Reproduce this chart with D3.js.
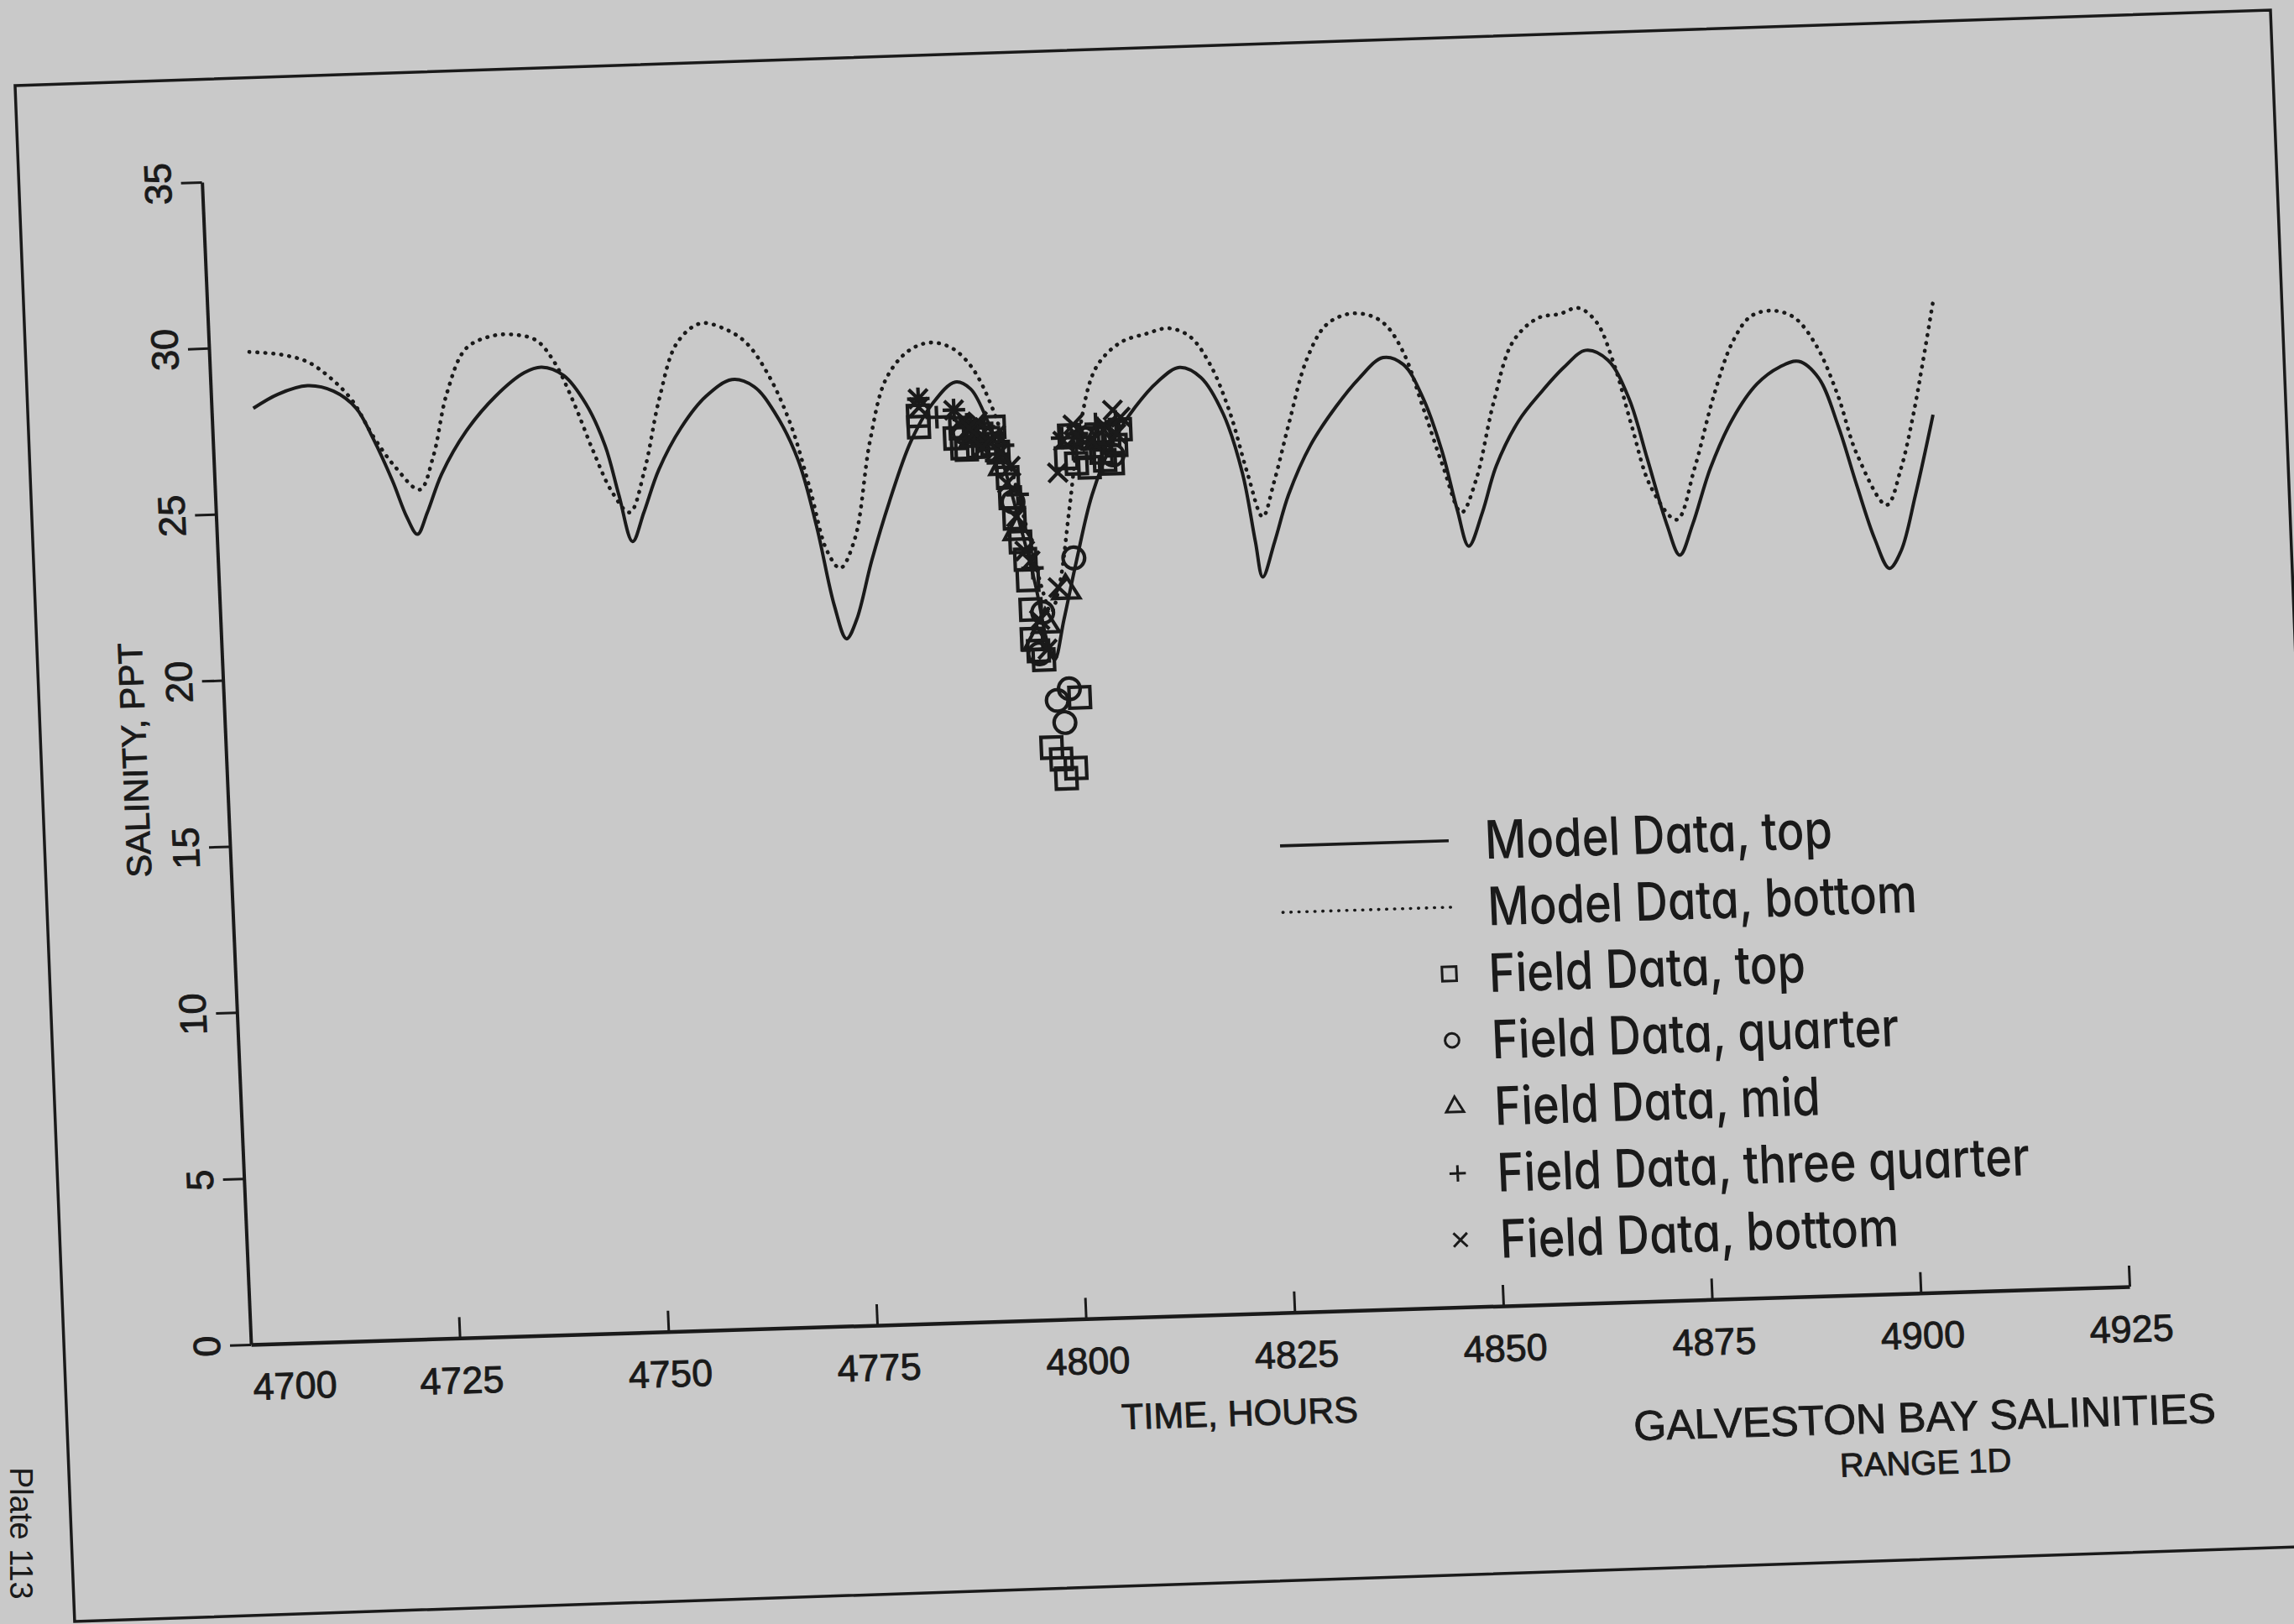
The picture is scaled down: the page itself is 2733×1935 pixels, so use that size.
<!DOCTYPE html>
<html>
<head>
<meta charset="utf-8">
<script src="https://cdn.jsdelivr.net/npm/d3@7"></script>
<style>
  html, body { margin: 0; padding: 0; background: #c9c9c9; }
  svg { display: block; }
</style>
</head>
<body>
<svg id="chart" width="2733" height="1935"></svg>
<script>
// ---------------- DATA ----------------
const xTicks = [4700, 4725, 4750, 4775, 4800, 4825, 4850, 4875, 4900, 4925];
const yTicks = [0, 5, 10, 15, 20, 25, 30, 35];

// Model Data, top (solid line)
const modelTopHours = [4705.0,4708.0,4711.6,4714.7,4717.3,4719.2,4721.3,4722.8,4724.0,4725.3,4727.2,4730.3,4734.0,4737.6,4739.7,4742.3,4744.8,4746.9,4748.3,4749.7,4751.2,4753.2,4756.1,4759.2,4762.4,4765.0,4767.4,4769.9,4771.8,4773.5,4774.8,4776.1,4778.2,4780.6,4783.5,4786.3,4789.1,4790.9,4792.6,4794.4,4796.2,4797.7,4798.8,4799.6,4800.9,4802.7,4804.9,4807.7,4810.5,4813.3,4816.0,4818.5,4821.0,4823.0,4824.2,4824.9,4826.5,4828.4,4831.3,4834.5,4837.4,4840.4,4842.8,4845.0,4847.0,4848.5,4849.7,4851.5,4853.4,4856.3,4859.1,4862.0,4864.7,4867.3,4869.6,4871.5,4873.5,4874.9,4876.6,4879.0,4881.9,4885.0,4887.8,4890.1,4892.4,4894.5,4896.4,4898.3,4899.9,4901.4,4903.4,4905.9];
const modelTopSalinity = [28.15,28.55,28.78,28.59,28.06,27.12,25.83,24.75,24.21,24.86,26.00,27.25,28.28,28.97,29.12,28.85,27.98,26.70,25.20,23.79,24.66,25.93,27.18,28.09,28.57,28.34,27.52,26.10,24.06,21.69,20.67,21.23,22.99,24.74,26.55,27.67,28.29,28.07,27.20,25.80,23.87,22.08,20.39,19.85,21.04,22.80,24.77,26.37,27.37,28.11,28.52,28.20,27.08,25.28,23.21,22.14,23.19,24.59,26.07,27.19,28.02,28.63,28.40,27.36,25.74,23.99,22.88,23.88,25.27,26.60,27.43,28.17,28.66,28.34,27.18,25.34,23.35,22.41,23.33,25.00,26.46,27.49,27.98,28.13,27.61,26.15,24.37,22.72,21.82,22.34,24.01,26.40];

// Model Data, bottom (dotted line)
const modelBottomHours = [4704.8,4708.6,4711.7,4714.3,4716.8,4719.2,4721.7,4724.5,4726.3,4728.2,4730.7,4733.8,4736.7,4739.2,4741.2,4743.4,4745.4,4747.5,4749.5,4751.5,4753.6,4756.0,4758.9,4761.8,4764.3,4766.8,4769.2,4771.2,4772.9,4774.4,4776.3,4778.6,4780.8,4783.6,4786.3,4788.9,4791.2,4793.5,4795.3,4797.0,4798.5,4799.4,4800.6,4802.1,4803.7,4806.0,4809.1,4812.1,4814.9,4817.4,4819.7,4821.8,4823.6,4825.2,4826.7,4828.8,4831.2,4833.7,4836.4,4839.0,4840.9,4842.9,4845.0,4847.0,4849.0,4850.9,4853.4,4856.0,4859.1,4861.8,4864.0,4866.1,4868.0,4869.8,4871.8,4874.7,4877.1,4879.8,4882.3,4884.6,4887.2,4889.8,4892.3,4894.6,4896.6,4899.9,4901.8,4903.5,4905.0,4906.6];
const modelBottomSalinity = [29.85,29.74,29.50,29.01,28.32,27.20,26.25,25.55,26.55,28.40,29.74,30.10,30.12,29.93,29.28,28.00,26.58,25.30,24.67,25.94,28.05,29.72,30.29,30.10,29.66,28.67,27.17,25.20,23.34,22.80,23.67,26.59,28.43,29.26,29.50,29.31,28.70,27.41,25.70,23.73,21.94,21.27,22.15,24.35,26.70,28.59,29.33,29.56,29.71,29.44,28.57,27.12,25.27,23.95,24.96,26.73,28.61,29.65,29.97,29.91,29.60,28.74,27.03,25.32,23.90,24.86,27.18,28.98,29.67,29.78,29.94,29.50,28.21,26.34,24.48,23.48,25.01,27.20,28.78,29.53,29.68,29.45,28.58,27.08,25.28,23.73,24.82,26.38,28.06,29.96];

// Field Data, top (squares)
const fieldTopHours = [4784.5,4784.5,4788.8,4790.1,4791.5,4792.8,4793.9,4794.9,4795.1,4795.5,4796.1,4796.6,4797.0,4797.7,4798.3,4798.8,4799.9,4800.4,4801.6,4802.4,4803.2,4804.1,4805.2,4806.2,4807.2,4808.0,4808.6,4802.5,4796.8,4797.0,4791.1,4789.6,4793.2,4806.6,4802.0,4789.5,4792.0,4793.5,4804.7,4807.5];
const fieldTopSalinity = [27.31,26.97,26.60,26.25,26.32,26.57,26.14,25.37,24.76,24.14,23.42,22.89,20.49,20.13,19.86,17.21,16.85,16.27,16.57,18.69,25.73,26.19,26.48,26.04,26.55,26.24,26.71,26.58,22.27,21.38,26.79,26.30,26.40,25.80,25.90,26.90,26.70,26.90,25.60,25.70];

// Field Data, quarter (circles)
const fieldQuarterHours = [4799.7,4800.5,4801.2,4802.4,4798.4,4789.9,4804.2,4807.6,4795.4,4797.8];
const fieldQuarterSalinity = [18.62,17.95,18.96,22.89,21.28,26.76,26.48,25.95,24.63,20.04];

// Field Data, mid (triangles)
const fieldMidHours = [4801.3,4798.7,4795.8,4791.0,4806.0,4794.4,4797.6];
const fieldMidSalinity = [21.92,20.92,23.74,26.58,26.56,25.71,20.40];

// Field Data, three quarter (plus)
const fieldThreeQuarterHours = [4790.3,4792.3,4794.5,4796.0,4797.4,4803.4,4805.7,4808.1,4801.6,4786.7,4788.8,4784.6,4793.6,4806.5];
const fieldThreeQuarterSalinity = [27.01,26.91,26.34,24.85,22.62,26.62,26.90,26.96,26.51,27.25,27.45,27.82,25.90,26.30];

// Field Data, bottom (x)
const fieldBottomHours = [4784.6,4784.6,4788.8,4789.4,4791.1,4792.8,4794.1,4795.3,4795.7,4796.6,4797.2,4798.0,4800.4,4798.8,4800.9,4801.7,4803.4,4805.1,4806.9,4808.7,4808.1,4791.6,4793.7,4790.5,4792.0,4794.8,4803.0,4807.8];
const fieldBottomSalinity = [27.82,27.56,27.45,27.02,26.75,26.48,26.13,25.70,24.18,23.15,22.84,21.06,22.02,20.17,25.47,26.42,26.58,26.39,26.80,27.08,26.58,27.08,26.65,26.90,26.30,25.20,26.90,27.30];

const legendLabels = ["Model Data, top","Model Data, bottom","Field Data, top","Field Data, quarter","Field Data, mid","Field Data, three quarter","Field Data, bottom"];

// ---------------- DRAWING ----------------
const ink = "#1a1a1a";
const W = 2239, H = 1386;
const sansFont = "'Liberation Sans', Arial, sans-serif";
const svg = d3.select("#chart");
svg.append("rect").attr("width", 2733).attr("height", 1935).attr("fill", "#c9c9c9");

// scanned plate is slightly rotated: draw everything in a tilted frame
const g = svg.append("g").attr("transform", "matrix(0.99955,-0.03082,0.04214,0.99929,240.6,217)");

const x = d3.scaleLinear().domain([4700, 4925]).range([0, W]);
const y = d3.scaleLinear().domain([0, 35]).range([H, 0]);

// outer frame
g.append("path")
  .attr("d", "M-217.6,-121.8 L2470.9,-128.9 L2465,1702 L-223.8,1709.3 Z")
  .attr("fill", "none").attr("stroke", ink).attr("stroke-width", 3.5);

function boldish(sel) { return sel.attr("stroke", ink).attr("stroke-width", 0.9); }

// x axis
const xAxis = d3.axisBottom(x).tickValues(xTicks).tickSizeInner(-25).tickSizeOuter(0)
  .tickPadding(34).tickFormat(d3.format("d"));
const gx = g.append("g").attr("transform", `translate(0,${H})`).call(xAxis);
gx.select(".domain").attr("stroke", ink).attr("stroke-width", 4.5);
gx.selectAll(".tick line").attr("stroke", ink).attr("stroke-width", 3);
boldish(gx.selectAll(".tick text").attr("font-family", sansFont)
  .attr("font-size", 45).attr("fill", ink));
gx.selectAll(".tick").filter(d => d === 4700).select("text").attr("text-anchor", "start");
gx.selectAll(".tick").filter(d => d === 4700).select("line").remove();

// y axis
const yAxis = d3.axisLeft(y).tickValues(yTicks).tickSizeInner(25).tickSizeOuter(0).tickPadding(12);
const gy = g.append("g").call(yAxis);
gy.select(".domain").attr("stroke", ink).attr("stroke-width", 4);
gy.selectAll(".tick line").attr("stroke", ink).attr("stroke-width", 3);
boldish(gy.selectAll(".tick text")
  .attr("x", 0).attr("dy", null).attr("text-anchor", "middle")
  .attr("transform", "translate(-37,0) rotate(-90)")
  .attr("font-family", sansFont)
  .attr("font-size", 45).attr("fill", ink));

// axis titles
boldish(g.append("text").attr("transform", "translate(-95,686) rotate(-90)")
  .attr("text-anchor", "middle").attr("font-family", sansFont)
  .attr("font-size", 41).attr("fill", ink).text("SALINITY, PPT"));
boldish(g.append("text").attr("x", 1173.5).attr("y", H + 133)
  .attr("text-anchor", "middle").attr("font-family", sansFont)
  .attr("font-size", 43).attr("fill", ink).text("TIME, HOURS"));
boldish(g.append("text").attr("x", 1988.7).attr("y", H + 165)
  .attr("text-anchor", "middle").attr("font-family", sansFont)
  .attr("font-size", 50).attr("fill", ink).text("GALVESTON BAY SALINITIES"));
boldish(g.append("text").attr("x", 1987.4).attr("y", H + 216)
  .attr("text-anchor", "middle").attr("font-family", sansFont)
  .attr("font-size", 40).attr("fill", ink).text("RANGE 1D"));

// model lines
const line = d3.line().x(d => x(d[0])).y(d => y(d[1])).curve(d3.curveCatmullRom.alpha(0.5));
g.append("path").datum(d3.zip(modelBottomHours, modelBottomSalinity))
  .attr("d", line).attr("fill", "none").attr("stroke", ink)
  .attr("stroke-width", 4.6).attr("stroke-linecap", "round").attr("stroke-dasharray", "0.5 9");
g.append("path").datum(d3.zip(modelTopHours, modelTopSalinity))
  .attr("d", line).attr("fill", "none").attr("stroke", ink).attr("stroke-width", 4);

// symbol types
const symPlus = { draw(ctx, size) { const r = Math.sqrt(size) / 2;
  ctx.moveTo(-r, 0); ctx.lineTo(r, 0); ctx.moveTo(0, -r); ctx.lineTo(0, r); } };
const symX = { draw(ctx, size) { const r = Math.sqrt(size) / 2 * 0.8;
  ctx.moveTo(-r, -r); ctx.lineTo(r, r); ctx.moveTo(-r, r); ctx.lineTo(r, -r); } };

const fieldSeries = [
  { h: fieldTopHours, s: fieldTopSalinity, type: d3.symbolSquare, size: 620, legendSize: 290 },
  { h: fieldQuarterHours, s: fieldQuarterSalinity, type: d3.symbolCircle, size: 520, legendSize: 220 },
  { h: fieldMidHours, s: fieldMidSalinity, type: d3.symbolTriangle, size: 440, legendSize: 190 },
  { h: fieldThreeQuarterHours, s: fieldThreeQuarterSalinity, type: symPlus, size: 720, legendSize: 380 },
  { h: fieldBottomHours, s: fieldBottomSalinity, type: symX, size: 780, legendSize: 420 }
];

fieldSeries.forEach(ser => {
  g.append("g").selectAll("path").data(d3.zip(ser.h, ser.s)).join("path")
    .attr("transform", d => `translate(${x(d[0])},${y(d[1])})`)
    .attr("d", d3.symbol().type(ser.type).size(ser.size))
    .attr("fill", "none").attr("stroke", ink).attr("stroke-width", 4.2);
});

// legend
const lg = g.append("g");
const rowY = i => 830 + i * 79.3;
lg.append("line").attr("x1", 1250).attr("x2", 1451).attr("y1", rowY(0)).attr("y2", rowY(0))
  .attr("stroke", ink).attr("stroke-width", 3.6);
lg.append("line").attr("x1", 1250).attr("x2", 1451).attr("y1", rowY(1)).attr("y2", rowY(1))
  .attr("stroke", ink).attr("stroke-width", 3.6).attr("stroke-linecap", "round").attr("stroke-dasharray", "0.5 9");
fieldSeries.forEach((ser, i) => {
  lg.append("path").attr("transform", `translate(1445,${rowY(i + 2)})`)
    .attr("d", d3.symbol().type(ser.type).size(ser.legendSize))
    .attr("fill", "none").attr("stroke", ink).attr("stroke-width", 3);
});
legendLabels.forEach((t, i) => {
  lg.append("text")
    .attr("transform", `translate(${i < 2 ? 1494 : 1492},${rowY(i) + 23}) scale(0.86,1)`)
    .attr("font-family", "Inter, 'Noto Sans', sans-serif")
    .attr("font-weight", 500)
    .style("font-feature-settings", "'cv11' 1")
    .attr("font-size", 63).attr("fill", ink).text(t);
});

// plate number at the page edge
svg.append("text").attr("transform", "translate(12,1748) rotate(90)")
  .attr("font-family", sansFont).attr("font-size", 38)
  .attr("fill", ink).text("Plate 113");
</script>
</body>
</html>
